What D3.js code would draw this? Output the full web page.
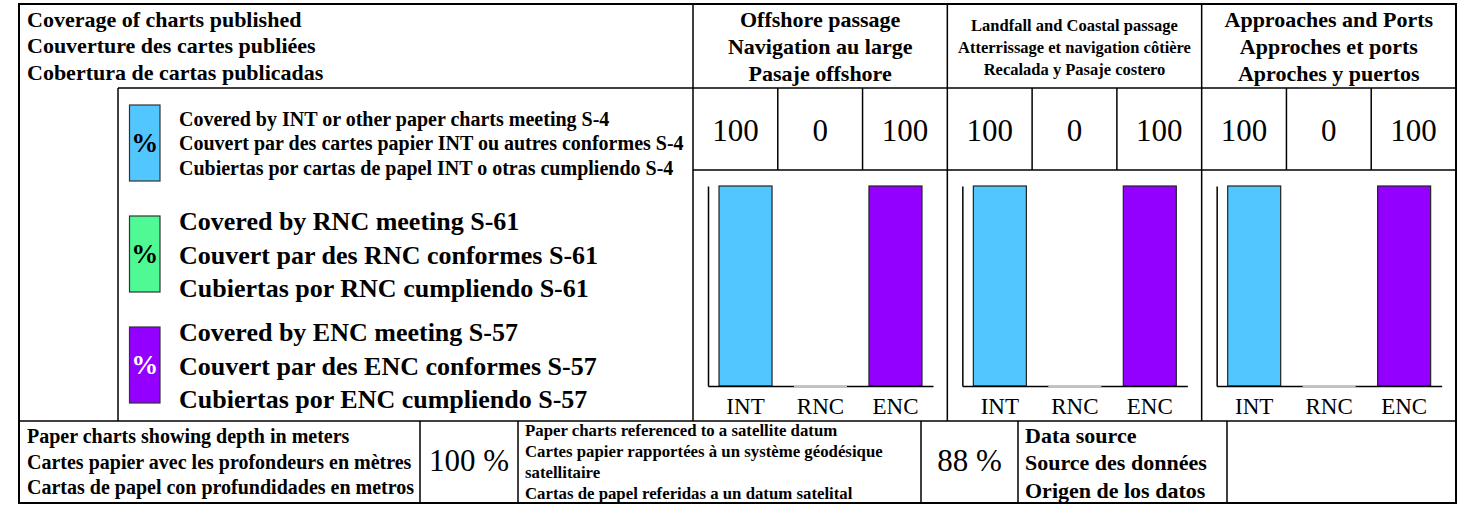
<!DOCTYPE html>
<html>
<head>
<meta charset="utf-8">
<script src="https://cdn.jsdelivr.net/npm/d3@7"></script>
<style>
body { margin: 0; background: #fff; }
svg { display: block; }
text { font-family: "Liberation Serif", "Times New Roman", serif; fill: #000; }
</style>
</head>
<body>
<svg id="chart" width="1468" height="505"></svg>
<script>
"use strict";

// --- data ---
var categories = ["INT", "RNC", "ENC"];
var categoryColors = ["#52c6ff", "#4ffa95", "#9400ff"];
var swatchTextColors = ["#000", "#000", "#fff"];

var headerLines = ["Coverage of charts published", "Couverture des cartes publiées", "Cobertura de cartas publicadas"];

var zoneTitles = [
	["Offshore passage", "Navigation au large", "Pasaje offshore"],
	["Landfall and Coastal passage", "Atterrissage et navigation côtière", "Recalada y Pasaje costero"],
	["Approaches and Ports", "Approches et ports", "Aproches y puertos"]
];
var zoneValues = [
	[100, 0, 100],
	[100, 0, 100],
	[100, 0, 100]
];

var legendLines = [
	["Covered by INT or other paper charts meeting S-4", "Couvert par des cartes papier INT ou autres conformes S-4", "Cubiertas por cartas de papel INT o otras cumpliendo S-4"],
	["Covered by RNC meeting S-61", "Couvert par des RNC conformes S-61", "Cubiertas por RNC cumpliendo S-61"],
	["Covered by ENC meeting S-57", "Couvert par des ENC conformes S-57", "Cubiertas por ENC cumpliendo S-57"]
];

var depthLines = ["Paper charts showing depth in meters", "Cartes papier avec les profondeurs en mètres", "Cartas de papel con profundidades en metros"];
var depthValue = 100;
var datumLines = ["Paper charts referenced to a satellite datum", "Cartes papier rapportées à un système géodésique", "satellitaire", "Cartas de papel referidas a un datum satelital"];
var datumValue = 88;
var sourceLines = ["Data source", "Source des données", "Origen de los datos"];

// --- layout ---
var L = 19, R = 1456, T = 4, B = 503;
var headY = 88, numY = 170, midY = 421;
var secX = 693;
var panelW = (R - secX) / 3;
var base = 386, top100 = 186;

var svg = d3.select("#chart");
svg.append("rect").attr("width", 1468).attr("height", 505).attr("fill", "#fff");

function line(x1, y1, x2, y2, w) {
	svg.append("line")
		.attr("x1", x1).attr("y1", y1).attr("x2", x2).attr("y2", y2)
		.attr("stroke", "#000").attr("stroke-width", w || 1.5);
}

function lines(g, arr, x, ys, size, bold, anchor) {
	g.selectAll(null).data(arr).enter().append("text")
		.attr("x", x)
		.attr("y", function(d, i){ return ys[i]; })
		.attr("font-size", size)
		.attr("font-weight", bold ? "bold" : "normal")
		.attr("text-anchor", anchor || "start")
		.text(function(d){ return d; });
}

// header block
lines(svg, headerLines, 27, [27, 53, 80], 22, true);

// zone titles
var titleSizes = [22, 16.5, 22];
var titleYs = [[27, 54, 81], [31, 53, 75], [27, 54, 81]];
zoneTitles.forEach(function(t, i){
	var cx = secX + panelW*i + panelW/2;
	lines(svg, t, cx, titleYs[i], titleSizes[i], true, "middle");
});

// number row
var cellW = panelW / 3;
zoneValues.forEach(function(vals, i){
	var px = secX + panelW*i;
	svg.selectAll(null).data(vals).enter().append("text")
		.attr("x", function(d, j){ return px + cellW*j + cellW/2; })
		.attr("y", 141)
		.attr("font-size", 31)
		.attr("text-anchor", "middle")
		.text(function(d){ return d; });
});

// legend
var swatchYs = [[105, 181], [216, 292], [327, 403]];
var legendSizes = [20, 26, 26];
var legendYs = [[126, 150, 175], [230, 264, 297], [341, 375, 408]];
legendLines.forEach(function(ls, i){
	var sy = swatchYs[i];
	svg.append("rect")
		.attr("x", 129.5).attr("y", sy[0]).attr("width", 30.5).attr("height", sy[1] - sy[0])
		.attr("fill", categoryColors[i]).attr("stroke", "#333").attr("stroke-width", 1.2);
	svg.append("text")
		.attr("x", 144.8).attr("y", (sy[0] + sy[1])/2 + 9)
		.attr("font-size", 27).attr("font-weight", "bold")
		.attr("text-anchor", "middle")
		.style("fill", swatchTextColors[i])
		.text("%");
	lines(svg, ls, 179, legendYs[i], legendSizes[i], true);
});

// bar panels
var y = d3.scaleLinear().domain([0, 100]).range([base, top100]);
zoneValues.forEach(function(vals, i){
	var px = secX + panelW*i;
	var x = d3.scaleBand().domain(categories)
		.range([px + 15, px + 240])
		.paddingInner(0.293).paddingOuter(0.147);
	var g = svg.append("g");
	var rows = categories.map(function(c, j){ return {cat: c, v: vals[j], color: categoryColors[j]}; });

	g.selectAll(".bar").data(rows.filter(function(d){ return d.v > 0; })).enter().append("rect")
		.attr("class", "bar")
		.attr("x", function(d){ return x(d.cat); })
		.attr("y", function(d){ return y(d.v); })
		.attr("width", x.bandwidth())
		.attr("height", function(d){ return base - y(d.v); })
		.attr("fill", function(d){ return d.color; })
		.attr("stroke", "#222").attr("stroke-width", 1.2);

	var ax = g.append("g").attr("transform", "translate(0," + base + ")")
		.call(d3.axisBottom(x).tickSize(0).tickPadding(12));
	ax.select(".domain").attr("stroke-width", 1.5);
	ax.selectAll("text").attr("font-size", 23).attr("font-family", "Liberation Serif");

	var ay = g.append("g").attr("transform", "translate(" + (px + 15) + ",0)")
		.call(d3.axisLeft(y).tickValues([]).tickSizeOuter(0));
	ay.select(".domain").attr("stroke-width", 1.5);

	// zero-value bars sit on the baseline as a thin grey stroke
	g.selectAll(".zero").data(rows.filter(function(d){ return d.v === 0; })).enter().append("line")
		.attr("class", "zero")
		.attr("x1", function(d){ return x(d.cat); })
		.attr("x2", function(d){ return x(d.cat) + x.bandwidth(); })
		.attr("y1", y(0)).attr("y2", y(0))
		.attr("stroke", "#c4c4c4").attr("stroke-width", 2);
});

// bottom row
lines(svg, depthLines, 27, [443, 469, 494], 20, true);
svg.append("text").attr("x", 469).attr("y", 471).attr("font-size", 31)
	.attr("text-anchor", "middle").text(depthValue + " %");
lines(svg, datumLines, 525, [436, 457, 478, 499], 16.8, true);
svg.append("text").attr("x", 969.5).attr("y", 471).attr("font-size", 31)
	.attr("text-anchor", "middle").text(datumValue + " %");
lines(svg, sourceLines, 1025, [443, 470, 498], 22, true);

// grid lines
line(118, headY, R, headY);
line(secX, numY, R, numY);
line(secX, T, secX, midY);
for (var k = 1; k < 3; k++) line(secX + panelW*k, T, secX + panelW*k, midY);
for (var p = 0; p < 3; p++) {
	for (var c = 1; c < 3; c++) line(secX + panelW*p + cellW*c, headY, secX + panelW*p + cellW*c, numY);
}
line(118, headY, 118, midY);
line(L, midY, R, midY);
[420, 518, 921, 1018, 1227].forEach(function(bx){ line(bx, midY, bx, B); });
svg.append("rect").attr("x", L).attr("y", T).attr("width", R - L).attr("height", B - T)
	.attr("fill", "none").attr("stroke", "#000").attr("stroke-width", 2);
</script>
</body>
</html>
